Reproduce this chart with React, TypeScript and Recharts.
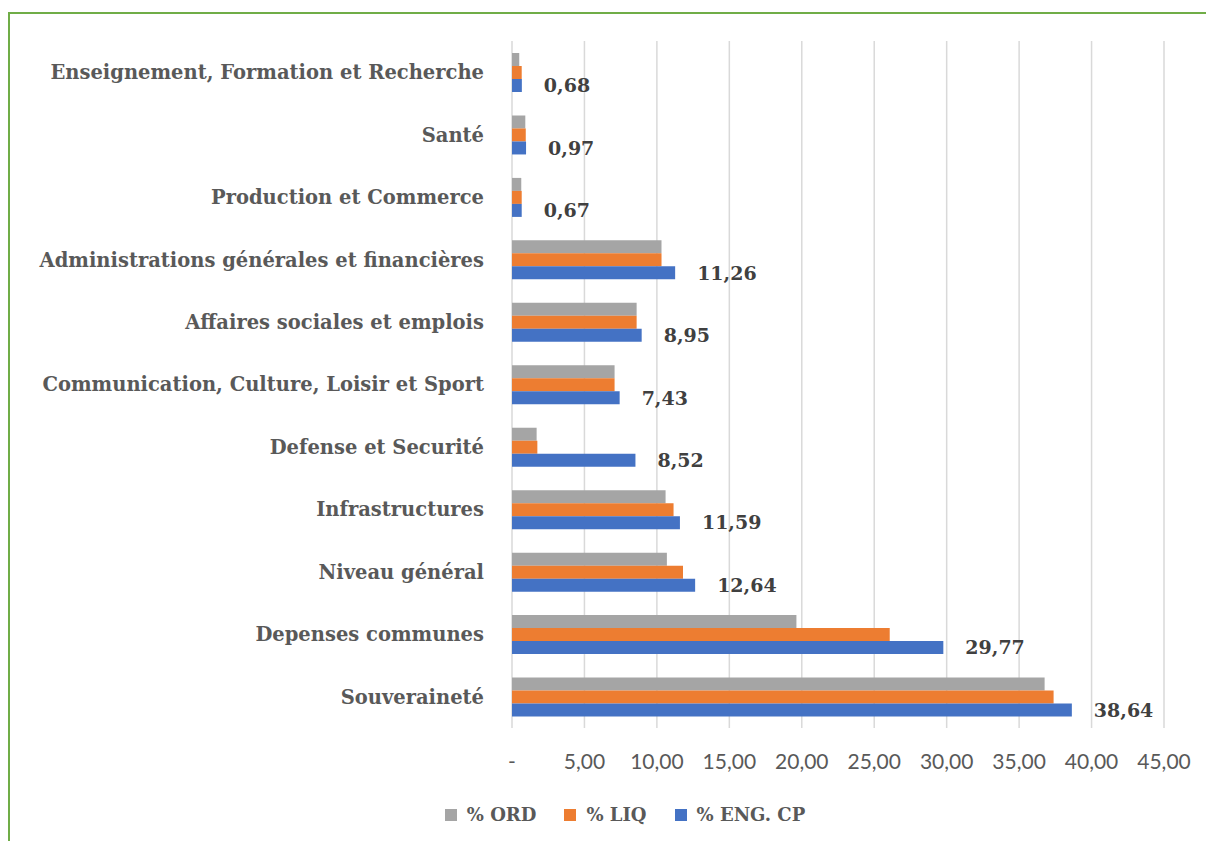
import React from 'react';
import {
  BarChart,
  Bar,
  XAxis,
  YAxis,
  CartesianGrid,
  Legend,
  LabelList,
} from 'recharts';

const categories = [
  'Enseignement, Formation et Recherche',
  'Santé',
  'Production et Commerce',
  'Administrations générales et financières',
  'Affaires sociales et emplois',
  'Communication, Culture, Loisir et Sport',
  'Defense et Securité',
  'Infrastructures',
  'Niveau général',
  'Depenses communes',
  'Souveraineté',
];

const ordValues = [0.5, 0.92, 0.64, 10.32, 8.6, 7.08, 1.7, 10.6, 10.69, 19.63, 36.76];
const liqValues = [0.67, 0.95, 0.67, 10.32, 8.6, 7.08, 1.75, 11.15, 11.8, 26.07, 37.38];
const engValues = [0.68, 0.97, 0.67, 11.26, 8.95, 7.43, 8.52, 11.59, 12.64, 29.77, 38.64];

const xTicks = [0, 5, 10, 15, 20, 25, 30, 35, 40, 45];

const series = [
  { key: 'ord', name: '% ORD', color: '#a5a5a5' },
  { key: 'liq', name: '% LIQ', color: '#ed7d31' },
  { key: 'eng', name: '% ENG. CP', color: '#4472c4' },
];

const data = categories.map((name, i) => ({
  name,
  ord: ordValues[i],
  liq: liqValues[i],
  eng: engValues[i],
}));

const fmt = (v: number) => (v === 0 ? '-' : v.toFixed(2).replace('.', ','));

const serif = '"DejaVu Serif", serif';

function LegendContent() {
  return (
    <div
      style={{
        display: 'flex',
        justifyContent: 'center',
        gap: 28,
        fontFamily: serif,
        fontWeight: 'bold',
        fontSize: 18,
        color: '#595959',
        paddingLeft: 76,
      }}
    >
      {series.map((s) => (
        <div key={s.key} style={{ display: 'flex', alignItems: 'center' }}>
          <span
            style={{
              display: 'inline-block',
              width: 12,
              height: 12,
              background: s.color,
              marginRight: 10,
            }}
          />
          {s.name}
        </div>
      ))}
    </div>
  );
}

export default function App() {
  return (
    <div
      style={{
        marginTop: 4,
        width: 1206,
        height: 829,
        borderLeft: '2px solid #70ad47',
        borderTop: '2px solid #70ad47',
        boxSizing: 'border-box',
        overflow: 'hidden',
      }}
    >
      <BarChart
        width={1204}
        height={827}
        data={data}
        layout="vertical"
        margin={{ top: 27, right: 50, bottom: 7, left: 0 }}
        barSize={13}
        barGap={0}
      >
        <CartesianGrid horizontal={false} stroke="#d9d9d9" strokeWidth={1.5} />
        <XAxis
          type="number"
          domain={[0, 45]}
          ticks={xTicks}
          tickFormatter={fmt}
          axisLine={false}
          tickLine={false}
          tickSize={0}
          tickMargin={26}
          height={76}
          tick={{ fill: '#595959', fontSize: 21, fontFamily: 'Lato, sans-serif' }}
        />
        <YAxis
          type="category"
          dataKey="name"
          width={502}
          axisLine={false}
          tickLine={false}
          tickSize={0}
          tickMargin={28}
          interval={0}
          tick={{ fill: '#595959', fontSize: 19.5, fontFamily: serif, fontWeight: 'bold' }}
        />
        <Legend verticalAlign="bottom" height={30} content={() => <LegendContent />} />
        {series.map((s) => (
          <Bar key={s.key} dataKey={s.key} name={s.name} fill={s.color} isAnimationActive={false}>
            {s.key === 'eng' && (
              <LabelList
                dataKey="eng"
                position="right"
                offset={22}
                formatter={(v: number) => fmt(v)}
                style={{ fill: '#404040', fontSize: 19, fontFamily: serif, fontWeight: 'bold' }}
              />
            )}
          </Bar>
        ))}
      </BarChart>
    </div>
  );
}
